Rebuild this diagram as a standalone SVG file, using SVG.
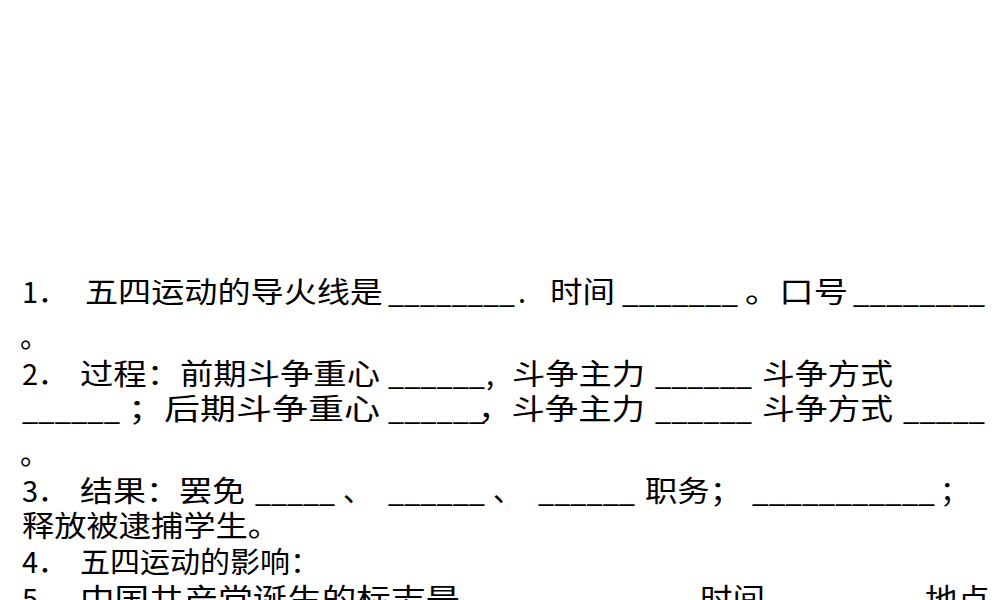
<svg xmlns="http://www.w3.org/2000/svg" width="1000" height="600" viewBox="0 0 1000 600">
<style>text{font-family:"Noto Sans CJK SC","Noto Sans",sans-serif;font-size:29px;fill:#000}</style>
<rect width="1000" height="600" fill="#fff"/>
<text x="22" y="303">1．</text>
<text x="85" y="303" textLength="298" lengthAdjust="spacingAndGlyphs">五四运动的导火线是</text>
<text x="388" y="303" textLength="127" lengthAdjust="spacingAndGlyphs">________</text>
<text x="518" y="303">.</text>
<text x="550" y="303" textLength="65" lengthAdjust="spacingAndGlyphs">时间</text>
<text x="622" y="303" textLength="116" lengthAdjust="spacingAndGlyphs">_______</text>
<text x="745" y="303" textLength="103" lengthAdjust="spacingAndGlyphs">。口号</text>
<text x="853" y="303" textLength="132" lengthAdjust="spacingAndGlyphs">________</text>
<text x="20" y="348">。</text>
<text x="22" y="385">2．</text>
<text x="80" y="385" textLength="300" lengthAdjust="spacingAndGlyphs">过程：前期斗争重心</text>
<text x="388" y="385" textLength="97" lengthAdjust="spacingAndGlyphs">______</text>
<text x="486" y="385">,</text>
<text x="512" y="385" textLength="133" lengthAdjust="spacingAndGlyphs">斗争主力</text>
<text x="655" y="385" textLength="97" lengthAdjust="spacingAndGlyphs">______</text>
<text x="762" y="385" textLength="131" lengthAdjust="spacingAndGlyphs">斗争方式</text>
<text x="22" y="420" textLength="98" lengthAdjust="spacingAndGlyphs">______</text>
<text x="128" y="420" textLength="252" lengthAdjust="spacingAndGlyphs">；后期斗争重心</text>
<text x="388" y="420" textLength="97" lengthAdjust="spacingAndGlyphs">______</text>
<text x="478" y="420" textLength="167" lengthAdjust="spacingAndGlyphs">，斗争主力</text>
<text x="655" y="420" textLength="97" lengthAdjust="spacingAndGlyphs">______</text>
<text x="762" y="420" textLength="131" lengthAdjust="spacingAndGlyphs">斗争方式</text>
<text x="903" y="420" textLength="82" lengthAdjust="spacingAndGlyphs">_____</text>
<text x="20" y="465">。</text>
<text x="22" y="502">3．</text>
<text x="80" y="502" textLength="165" lengthAdjust="spacingAndGlyphs">结果：罢免</text>
<text x="255" y="502" textLength="80" lengthAdjust="spacingAndGlyphs">_____</text>
<text x="343" y="502">、</text>
<text x="388" y="502" textLength="97" lengthAdjust="spacingAndGlyphs">______</text>
<text x="493" y="502">、</text>
<text x="538" y="502" textLength="97" lengthAdjust="spacingAndGlyphs">______</text>
<text x="645" y="502" textLength="97" lengthAdjust="spacingAndGlyphs">职务；</text>
<text x="752" y="502" textLength="183" lengthAdjust="spacingAndGlyphs">___________</text>
<text x="940" y="502">；</text>
<text x="22" y="537" textLength="258" lengthAdjust="spacingAndGlyphs">释放被逮捕学生。</text>
<text x="22" y="573">4．</text>
<text x="80" y="573" textLength="240" lengthAdjust="spacingAndGlyphs">五四运动的影响：</text>
<text x="22" y="610">5．</text>
<text x="80" y="610" textLength="380" lengthAdjust="spacingAndGlyphs">中国共产党诞生的标志是</text>
<text x="475" y="610" textLength="180" lengthAdjust="spacingAndGlyphs">__________</text>
<text x="700" y="610" textLength="65" lengthAdjust="spacingAndGlyphs">时间</text>
<text x="775" y="610" textLength="140" lengthAdjust="spacingAndGlyphs">________</text>
<text x="925" y="610" textLength="65" lengthAdjust="spacingAndGlyphs">地点</text>
</svg>
